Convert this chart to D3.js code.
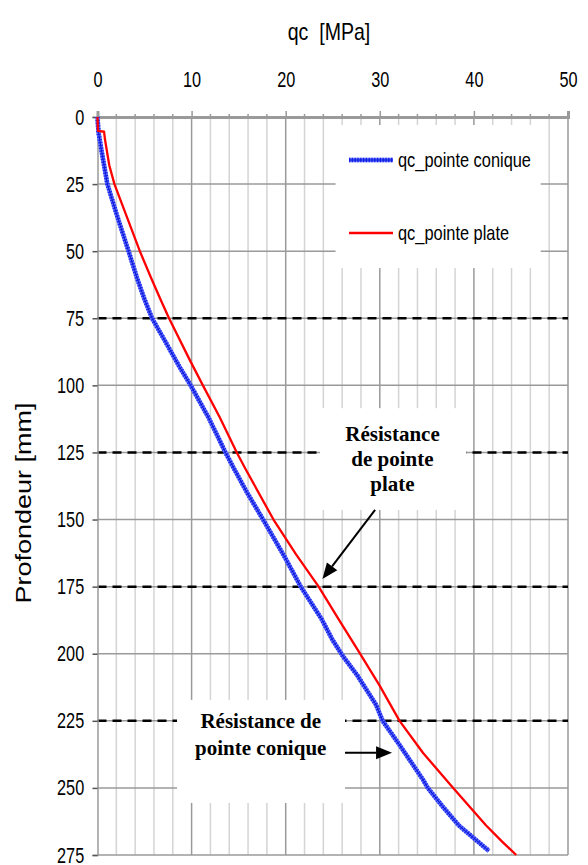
<!DOCTYPE html>
<html>
<head>
<meta charset="utf-8">
<script src="https://cdnjs.cloudflare.com/ajax/libs/d3/7.8.5/d3.min.js"></script>
<style>
body { margin: 0; background: #fff; }
</style>
</head>
<body>
<div id="plot"></div>
<script>
// pointe conique (bleu)
var profondeurConique = [0, 5.5, 12, 18, 25, 37, 50, 60, 68, 75, 83, 93, 100, 112, 125, 131, 140, 150, 164, 175, 187, 195, 201, 208, 219, 225, 234, 247, 250, 257, 264, 273.5];
var qcConique = [0, 0.1, 0.4, 0.7, 1.05, 2.1, 3.3, 4.2, 5.0, 5.8, 7.1, 8.7, 9.9, 11.8, 13.6, 14.5, 15.9, 17.6, 19.9, 21.6, 23.8, 25.0, 26.1, 27.6, 29.6, 30.3, 32.1, 34.6, 35.1, 36.7, 38.4, 41.6];

// pointe plate (rouge)
var profondeurPlate = [0, 5.2, 5.5, 8.5, 18, 25, 37, 50, 60, 68, 75, 90.5, 100, 112, 125, 131, 150, 163, 175, 187, 200, 212, 225, 237, 250, 264, 270, 275];
var qcPlate = [0, 0.05, 0.7, 0.8, 1.25, 1.8, 3.1, 4.5, 5.7, 6.7, 7.6, 9.8, 11.2, 13.0, 14.8, 15.7, 18.7, 21.1, 23.5, 25.6, 27.9, 30.0, 32.1, 34.6, 37.8, 41.3, 43.0, 44.5];

var qcTicks = [0, 10, 20, 30, 40, 50];
var profondeurTicks = [0, 25, 50, 75, 100, 125, 150, 175, 200, 225, 250, 275];
var lignesRepere = [75, 125, 175, 225];
var legendLabels = ["qc_pointe conique", "qc_pointe plate"];
var noteLignesPlate = ["Résistance", "de pointe", "plate"];
var noteLignesConique = ["Résistance de", "pointe conique"];

var sans = "'Liberation Sans', Arial, sans-serif";
var serif = "'Liberation Serif', 'Times New Roman', serif";

var width = 588, height = 865;

var svg = d3.select("#plot")
    .append("svg")
    .attr("width", width)
    .attr("height", height)
    .style("background", "#fff");

var x = d3.scaleLinear().domain([0, 50]).range([97.5, 568]);
var y = d3.scaleLinear().domain([0, 275]).range([117, 855]);

// grille
svg.selectAll(".vgrid")
    .data(d3.range(2, 51, 2))
    .enter().append("line")
    .attr("x1", function(d) { return x(d); })
    .attr("x2", function(d) { return x(d); })
    .attr("y1", y(0))
    .attr("y2", y(275))
    .style("stroke", function(d) { return d % 10 == 0 ? "#9a9a9a" : "#d4d4d4"; })
    .style("stroke-width", 1.5);

svg.selectAll(".hgrid")
    .data(profondeurTicks.slice(1))
    .enter().append("line")
    .attr("x1", x(0))
    .attr("x2", x(50))
    .attr("y1", function(d) { return y(d); })
    .attr("y2", function(d) { return y(d); })
    .style("stroke", "#9a9a9a")
    .style("stroke-width", 1.5);

svg.selectAll(".repere")
    .data(lignesRepere)
    .enter().append("line")
    .attr("x1", x(0))
    .attr("x2", x(50))
    .attr("y1", function(d) { return y(d); })
    .attr("y2", function(d) { return y(d); })
    .style("stroke", "#000")
    .style("stroke-width", 2.5)
    .style("stroke-dasharray", "9,6");

// axes
var topAxis = svg.append("g")
    .attr("transform", "translate(0," + y(0) + ")")
    .call(d3.axisTop(x).tickValues(qcTicks).tickSize(6).tickPadding(24));
topAxis.select(".domain").style("stroke", "#9a9a9a").style("stroke-width", 3);
topAxis.selectAll(".tick line").style("stroke", "#9a9a9a").style("stroke-width", 1.5);
topAxis.selectAll(".tick text")
    .style("font-family", sans).style("font-size", "22px").style("fill", "#000")
    .attr("transform", "scale(0.74,1)");

svg.selectAll(".minorTick")
    .data(d3.range(2, 50, 2).filter(function(d) { return d % 10 != 0; }))
    .enter().append("line")
    .attr("x1", function(d) { return x(d); })
    .attr("x2", function(d) { return x(d); })
    .attr("y1", y(0) - 3)
    .attr("y2", y(0))
    .style("stroke", "#9a9a9a")
    .style("stroke-width", 1.5);

var leftAxis = svg.append("g")
    .attr("transform", "translate(" + x(0) + ",0)")
    .call(d3.axisLeft(y).tickValues(profondeurTicks).tickSize(5).tickPadding(13));
leftAxis.select(".domain").style("stroke", "#9a9a9a").style("stroke-width", 1.5);
leftAxis.selectAll(".tick line").style("stroke", "#555").style("stroke-width", 1.5);
leftAxis.selectAll(".tick text")
    .style("font-family", sans).style("font-size", "22px").style("fill", "#000")
    .attr("transform", "scale(0.74,1)");

svg.append("text")
    .attr("transform", "translate(329,40) scale(0.85,1)")
    .attr("text-anchor", "middle")
    .style("white-space", "pre")
    .style("font-family", sans)
    .style("font-size", "23px")
    .text("qc  [MPa]");

svg.append("text")
    .attr("transform", "translate(31,503) rotate(-90) scale(1,0.8)")
    .attr("text-anchor", "middle")
    .style("font-family", sans)
    .style("font-size", "27px")
    .text("Profondeur [mm]");

// cadres blancs (legende + annotations)
function cadre(x0, x1, y0, y1)
{
    svg.append("rect")
        .attr("x", x(x0))
        .attr("y", y(y0))
        .attr("width", x(x1) - x(x0))
        .attr("height", y(y1) - y(y0))
        .style("fill", "#fff");
}
cadre(25.3, 47.1, 3.0, 56.3);
cadre(23.65, 39.2, 108.5, 146.4);
cadre(8.45, 26.3, 217.2, 255.6);

// courbes
function courbe(qc, prof)
{
    return d3.line()(qc.map(function(d, i) { return [x(d), y(prof[i])]; }));
}

function traitConique(g, d)
{
    g.append("path").attr("d", d)
        .style("fill", "none").style("stroke", "#6673ff").style("stroke-width", 4.5);
    g.append("path").attr("d", d)
        .style("fill", "none").style("stroke", "#1626f0").style("stroke-width", 4.5)
        .style("stroke-dasharray", "1.2,1.6");
    g.append("path").attr("d", d)
        .style("fill", "none").style("stroke", "#0a14d0").style("stroke-width", 1);
}

function traitPlate(g, d)
{
    g.append("path").attr("d", d)
        .style("fill", "none").style("stroke", "#ff0000").style("stroke-width", 2.3)
        .style("stroke-linejoin", "round");
}

traitConique(svg.append("g"), courbe(qcConique, profondeurConique));
traitPlate(svg.append("g"), courbe(qcPlate, profondeurPlate));

// legende
var legend = svg.append("g");
traitConique(legend, "M349,160L393,160");
traitPlate(legend, "M349,233L393,233");
legend.selectAll("text")
    .data(legendLabels)
    .enter().append("text")
    .attr("transform", function(d, i) { return "translate(398," + (167 + i * 73) + ") scale(0.82,1)"; })
    .style("font-family", sans)
    .style("font-size", "20px")
    .text(function(d) { return d; });

// annotations
function note(lignes, cx, y0, pas)
{
    svg.selectAll(null)
        .data(lignes)
        .enter().append("text")
        .attr("x", x(cx))
        .attr("y", function(d, i) { return y0 + i * pas; })
        .attr("text-anchor", "middle")
        .style("font-family", serif)
        .style("font-weight", "bold")
        .style("font-size", "21px")
        .text(function(d) { return d; });
}
note(noteLignesPlate, 31.35, 441, 25);
note(noteLignesConique, 17.35, 728, 27);

function fleche(qx0, p0, qx1, p1)
{
    var x0 = x(qx0), y0 = y(p0), x1 = x(qx1), y1 = y(p1);
    var a = Math.atan2(y1 - y0, x1 - x0);
    var L = 16, W = 6.5;
    var bx = x1 - L * Math.cos(a), by = y1 - L * Math.sin(a);
    svg.append("line")
        .attr("x1", x0).attr("y1", y0).attr("x2", bx).attr("y2", by)
        .style("stroke", "#000").style("stroke-width", 2);
    svg.append("polygon")
        .attr("points", [
            [x1, y1],
            [bx + W * Math.sin(a), by - W * Math.cos(a)],
            [bx - W * Math.sin(a), by + W * Math.cos(a)]
        ].map(function(p) { return p.join(","); }).join(" "))
        .style("fill", "#000");
}
fleche(29.5, 146.4, 23.9, 172.2);
fleche(26.3, 236.9, 31.3, 236.9);
</script>
</body>
</html>
